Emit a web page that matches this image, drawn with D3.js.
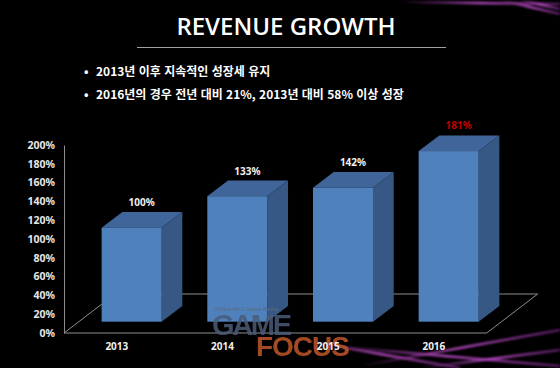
<!DOCTYPE html>
<html lang="ko">
<head>
    <meta charset="UTF-8">
    <title>Revenue Growth</title>
    <script src="https://d3js.org/d3.v7.min.js"></script>
    <style>
        body { margin: 0; background: #000; overflow: hidden; }
        svg { display: block; }
        .tick text { fill: #e6e6e6; font: bold 10.5px "Noto Sans", Arial, sans-serif; }
    </style>
</head>
<body>
<script>
    // chart data
    const years = ["2013", "2014", "2015", "2016"];
    const growth = [100, 133.5, 142.5, 181.5];
    const growthLabels = ["100%", "133%", "142%", "181%"];
    const yTicks = [0, 20, 40, 60, 80, 100, 120, 140, 160, 180, 200];
    const bullets = [
        "2013년 이후 지속적인 성장세 유지",
        "2016년의 경우 전년 대비 21%, 2013년 대비 58% 이상 성장"
    ];

    const W = 560, H = 368;
    const svg = d3.select("body").append("svg")
        .attr("width", W).attr("height", H);

    const defs = svg.append("defs");
    defs.append("filter").attr("id", "blur")
        .append("feGaussianBlur").attr("stdDeviation", 1.2);
    const glow = defs.append("linearGradient").attr("id", "streak")
        .attr("x1", "0%").attr("x2", "100%");
    glow.append("stop").attr("offset", "0%").attr("stop-color", "#a23cb0").attr("stop-opacity", 0);
    glow.append("stop").attr("offset", "50%").attr("stop-color", "#c04dcc").attr("stop-opacity", 0.9);
    glow.append("stop").attr("offset", "100%").attr("stop-color", "#8a2e9a").attr("stop-opacity", 0.6);

    svg.append("rect").attr("width", W).attr("height", H).attr("fill", "#000");

    // purple light streaks in the background
    const streaks = [
        [[330, 346], [560, 366]], [[360, 366], [560, 330]], [[420, 368], [560, 350]],
        [[300, 340], [460, 368]], [[400, 2], [560, 4]], [[500, 0], [560, 14]], [[520, 0], [560, 9]]
    ];
    svg.append("g").attr("filter", "url(#blur)")
        .selectAll("line").data(streaks).join("line")
        .attr("x1", d => d[0][0]).attr("y1", d => d[0][1])
        .attr("x2", d => d[1][0]).attr("y2", d => d[1][1])
        .attr("stroke", "url(#streak)").attr("stroke-width", 2.5);

    // title
    svg.append("text").attr("x", 286).attr("y", 35)
        .attr("text-anchor", "middle").attr("fill", "#fff")
        .style("font", "600 24px 'Open Sans', 'Noto Sans', sans-serif")
        .text("REVENUE GROWTH");
    svg.append("line").attr("x1", 137).attr("x2", 446).attr("y1", 47.5).attr("y2", 47.5)
        .attr("stroke", "#a0a0a0").attr("stroke-width", 1.2);

    const bl = svg.append("g").selectAll("g").data(bullets).join("g")
        .attr("transform", (d, i) => `translate(0,${76 + i * 23})`);
    bl.append("text").attr("x", 84).attr("fill", "#fff")
        .style("font", "bold 12px 'Noto Sans CJK KR', sans-serif").text("•");
    bl.append("text").attr("x", 96).attr("fill", "#fff")
        .style("font", "bold 12px 'Noto Sans CJK KR', sans-serif")
        .text(d => d);

    // pseudo-3D chart geometry
    const x0 = 64, x1 = 486.7, yBase = 333, yTop = 145;
    const floorDx = 51, floorDy = -39;
    const frontDx = 14.8, frontDy = -11.3;
    const depthDx = 20.7, depthDy = -15.7;
    const barW = 60;

    const x = d3.scaleBand().domain(years).range([x0, x1]);
    const y = d3.scaleLinear().domain([0, 200]).range([yBase, yTop]);

    // floor
    svg.append("path")
        .attr("d", `M${x0},${yBase}L${x1},${yBase}L${x1 + floorDx},${yBase + floorDy}L${x0 + floorDx},${yBase + floorDy}Z`)
        .attr("fill", "none").attr("stroke", "#8c8c8c").attr("stroke-width", 1);

    // y axis
    const axis = svg.append("g").attr("transform", `translate(${x0},0)`)
        .call(d3.axisLeft(y).tickValues(yTicks).tickFormat(d => d + "%").tickSize(0).tickPadding(9));
    axis.select(".domain").attr("stroke", "#8c8c8c");

    // bars
    const bars = svg.append("g").selectAll("g").data(years).join("g");
    const fx = d => x(d) + x.bandwidth() / 2 + frontDx - barW / 2;

    bars.append("path")
        .attr("fill", "#40659a")
        .attr("d", (d, i) => {
            const l = fx(d), r = l + barW, t = y(growth[i]) + frontDy;
            return `M${l},${t}L${r},${t}L${r + depthDx},${t + depthDy}L${l + depthDx},${t + depthDy}Z`;
        });
    bars.append("path")
        .attr("fill", "#375884")
        .attr("d", (d, i) => {
            const r = fx(d) + barW, t = y(growth[i]) + frontDy, b = y(0) + frontDy;
            return `M${r},${t}L${r + depthDx},${t + depthDy}L${r + depthDx},${b + depthDy}L${r},${b}Z`;
        });
    bars.append("rect")
        .attr("x", d => fx(d)).attr("width", barW)
        .attr("y", (d, i) => y(growth[i]) + frontDy)
        .attr("height", (d, i) => y(0) - y(growth[i]))
        .attr("fill", "#4f81bd");

    // watermark (sits over the bars)
    const wm = svg.append("g").attr("opacity", 0.85);
    wm.append("text").attr("x", 214).attr("y", 311).attr("fill", "#5a6a82")
        .style("font", "bold 5.5px Arial, sans-serif").text("Global No.1 Game Media");
    wm.append("text").attr("x", 212).attr("y", 335).attr("fill", "#4a5c78")
        .style("font", "bold 29px 'Liberation Sans', Arial, sans-serif").attr("textLength", 80)
        .text("GAME");
    wm.append("text").attr("x", 256).attr("y", 356).attr("fill", "#c0562a")
        .style("font", "bold 28px 'Liberation Sans', Arial, sans-serif").attr("textLength", 94)
        .text("FOCUS");

    // value labels
    svg.append("g").selectAll("text").data(years).join("text")
        .attr("x", d => fx(d) + barW / 2 + 10)
        .attr("y", (d, i) => y(growth[i]) - 33)
        .attr("text-anchor", "middle")
        .attr("fill", (d, i) => i === 3 ? "#c00000" : "#f0f0f0")
        .style("font", "bold 10px 'Noto Sans', Arial, sans-serif")
        .text((d, i) => growthLabels[i]);

    // category labels
    svg.append("g").selectAll("text").data(years).join("text")
        .attr("x", d => x(d) + x.bandwidth() / 2)
        .attr("y", 350)
        .attr("text-anchor", "middle").attr("fill", "#f0f0f0")
        .style("font", "bold 10px 'Noto Sans', Arial, sans-serif")
        .text(d => d);
</script>
</body>
</html>
